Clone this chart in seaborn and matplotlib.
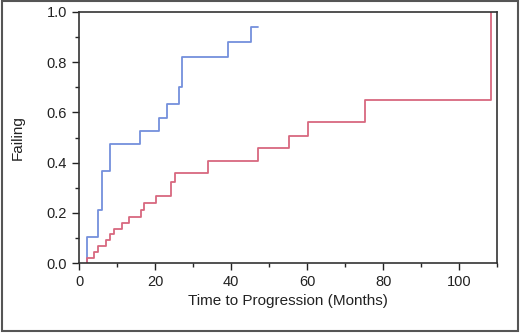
import pandas as pd
import numpy as np
import matplotlib
matplotlib.use("Agg")
import matplotlib.pyplot as plt
import seaborn as sns
from matplotlib.ticker import MultipleLocator

# step curves (time in months, cumulative failing)
blue_t = [2.0, 2.0, 5.1, 6.1, 8.2, 16.0, 21.1, 23.2, 26.2, 27.2, 39.1, 45.2, 47.2]
blue_y = [0.0, 0.105, 0.21, 0.368, 0.474, 0.526, 0.579, 0.632, 0.70, 0.82, 0.88, 0.94, 0.94]

red_t = [2.0, 2.0, 4.0, 5.1, 7.1, 8.2, 9.3, 11.2, 13.2, 16.2, 17.1, 20.2, 24.2, 25.3,
         34.0, 47.2, 55.3, 60.2, 75.3, 108.3, 108.3]
red_y = [0.0, 0.022, 0.045, 0.066, 0.092, 0.114, 0.136, 0.161, 0.185, 0.211, 0.24,
         0.267, 0.324, 0.36, 0.408, 0.457, 0.506, 0.56, 0.649, 0.649, 1.0]

df = pd.concat([
    pd.DataFrame({"t": blue_t, "y": blue_y, "grp": "A"}),
    pd.DataFrame({"t": red_t, "y": red_y, "grp": "B"}),
], ignore_index=True)

sns.set_style("ticks")
plt.rcParams['font.family'] = ['Liberation Sans', 'DejaVu Sans']

fig = plt.figure(figsize=(5.2, 3.33), dpi=100)
ax = fig.add_axes([0.152, 0.21, 0.804, 0.754])

sns.lineplot(data=df, x="t", y="y", hue="grp", units="grp", estimator=None,
             palette={"A": "#7490dc", "B": "#d8687f"}, drawstyle="steps-post",
             linewidth=1.3, legend=False, ax=ax, sort=False)

ax.set_xlim(0, 110)
ax.set_ylim(0, 1.0)
ax.xaxis.set_major_locator(MultipleLocator(20))
ax.xaxis.set_minor_locator(MultipleLocator(10))
ax.yaxis.set_major_locator(MultipleLocator(0.2))
ax.yaxis.set_minor_locator(MultipleLocator(0.1))
ax.set_yticklabels([f"{v:.1f}" for v in ax.get_yticks()])
ax.tick_params(which="major", length=5, width=1, labelsize=10.5, colors="#222222")
ax.tick_params(which="minor", length=3, width=1)
ax.set_xlabel("Time to Progression (Months)", fontsize=11, color="#222222")
ax.set_ylabel("Failing", fontsize=11, color="#222222", labelpad=16)
for s in ax.spines.values():
    s.set_color("#333333")
    s.set_linewidth(1.2)

# outer frame around the whole picture
fig.patches.append(plt.Rectangle((0.003, 0.006), 0.994, 0.99, transform=fig.transFigure,
                                 fill=False, edgecolor="#555555", linewidth=1.5))

fig.savefig("out.png", dpi=100)
